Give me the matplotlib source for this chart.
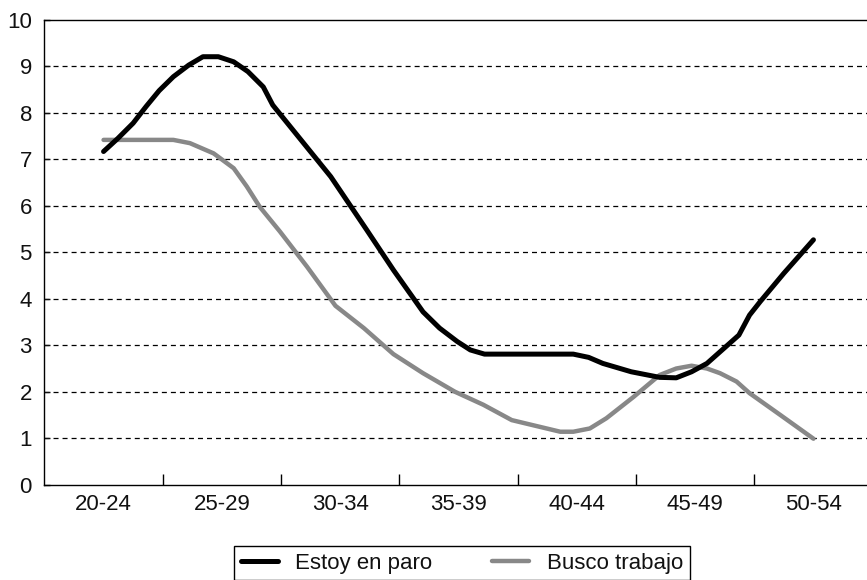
import matplotlib
matplotlib.use("Agg")
import matplotlib.pyplot as plt
import numpy as np

plt.rcParams['font.family'] = ['Liberation Sans', 'DejaVu Sans']
plt.rcParams['lines.scale_dashes'] = False

categories = ["20-24", "25-29", "30-34", "35-39", "40-44", "45-49", "50-54"]

# positions along the category axis (0 = first category centre)
paro_x = [0.00, 0.12, 0.25, 0.36, 0.47, 0.59, 0.72, 0.84, 0.97, 1.10, 1.22, 1.35, 1.43, 1.92,
          2.225, 2.45, 2.70, 2.84, 2.99, 3.10, 3.22, 3.97, 4.10, 4.22, 4.46, 4.70,
          4.84, 4.97, 5.10, 5.37, 5.46, 5.55, 5.75, 6.00]
paro_y = [7.17, 7.45, 7.78, 8.14, 8.48, 8.78, 9.03, 9.21, 9.21, 9.10, 8.89, 8.56, 8.17, 6.63,
          5.48, 4.62, 3.72, 3.37, 3.08, 2.90, 2.81, 2.81, 2.74, 2.61, 2.43, 2.31,
          2.30, 2.43, 2.61, 3.22, 3.65, 3.94, 4.55, 5.27]

busco_x = [0.00, 0.59, 0.73, 0.93, 1.10, 1.21, 1.32, 1.49, 1.72, 1.96, 2.20, 2.45, 2.70,
           2.97, 3.21, 3.45, 3.63, 3.86, 3.97, 4.11, 4.25, 4.48, 4.70, 4.84, 4.97,
           5.10, 5.21, 5.35, 5.46, 5.72, 6.00]
busco_y = [7.42, 7.42, 7.35, 7.13, 6.81, 6.42, 5.98, 5.45, 4.69, 3.85, 3.37, 2.81, 2.40,
           2.00, 1.72, 1.39, 1.28, 1.14, 1.14, 1.21, 1.43, 1.89, 2.36, 2.50, 2.56,
           2.50, 2.40, 2.22, 1.97, 1.50, 0.99]

series_names = ["Estoy en paro", "Busco trabajo"]
yticks = list(range(0, 11))

fig = plt.figure(figsize=(8.67, 5.80), dpi=100)
ax = fig.add_axes([44.4 / 867, 95.3 / 580, (872.6 - 44.4) / 867, (484.7 - 20) / 580])

ax.set_xlim(-0.5, len(categories) - 0.5)
ax.set_ylim(0, 10)

for yv in yticks[1:-1]:
    ax.axhline(yv, color='black', linewidth=0.9, dashes=(3.6, 2.9), zorder=1)

ax.plot(paro_x, paro_y, color='black', linewidth=3.6, solid_capstyle='round',
        solid_joinstyle='round', label=series_names[0], zorder=3)
ax.plot(busco_x, busco_y, color='#888888', linewidth=3.2, solid_capstyle='round',
        solid_joinstyle='round', label=series_names[1], zorder=2)

# x axis: ticks at boundaries, labels at centres
ax.set_xticks(np.arange(0.5, len(categories) - 0.5, 1.0))
ax.set_xticklabels([])
ax.set_xticks(np.arange(len(categories)), minor=True)
ax.set_xticklabels(categories, minor=True)
ax.tick_params(axis='x', which='major', direction='in', length=7.7, width=1.0)
ax.tick_params(axis='x', which='minor', length=0, pad=6.5, labelsize=16, colors='#111111')

ax.set_yticks(yticks)
ax.set_yticklabels([str(v) for v in yticks])
ax.tick_params(axis='y', direction='in', length=4, width=1.0, pad=9.0, labelsize=16,
               colors='#111111')

for s in ['left', 'top', 'bottom']:
    ax.spines[s].set_linewidth(1.0)
    ax.spines[s].set_color('black')
ax.spines['right'].set_visible(False)

leg = ax.legend(loc='center', bbox_to_anchor=(462 / 867, 1 - 563 / 580),
                bbox_transform=fig.transFigure, ncol=2, fontsize=16,
                frameon=True, fancybox=False, edgecolor='black', framealpha=1,
                handlelength=1.65, handletextpad=0.8, columnspacing=2.7,
                borderpad=0.3, borderaxespad=0.0)
leg.get_frame().set_linewidth(1.0)
for t in leg.get_texts():
    t.set_color('#111111')
leg._legend_box.sep = 0
leg.get_frame().set_boxstyle('square', pad=0.0)

fig.savefig("out.png", dpi=100)
